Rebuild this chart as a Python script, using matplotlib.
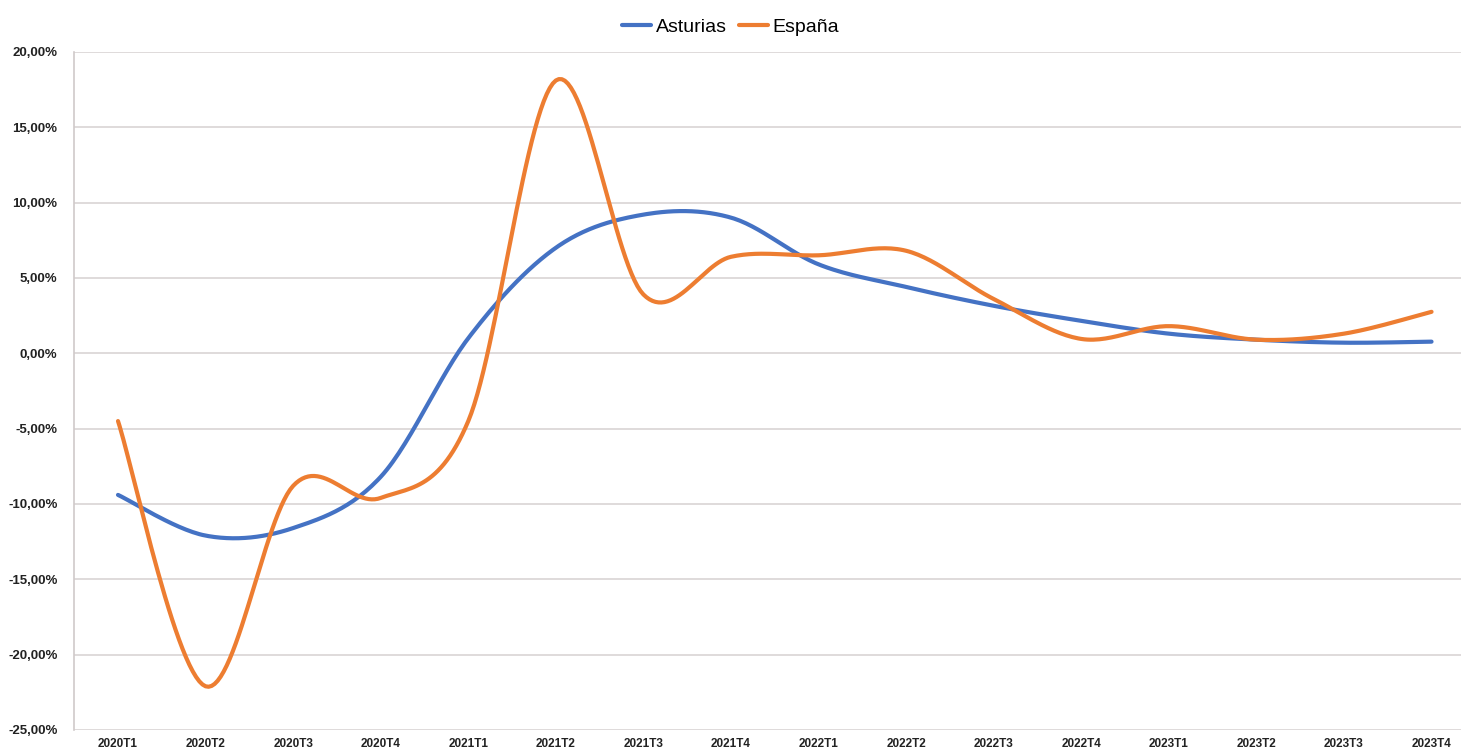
import numpy as np
import matplotlib
matplotlib.use("Agg")
import matplotlib.pyplot as plt
from matplotlib.ticker import FuncFormatter

trimestres = ["2020T1", "2020T2", "2020T3", "2020T4",
              "2021T1", "2021T2", "2021T3", "2021T4",
              "2022T1", "2022T2", "2022T3", "2022T4",
              "2023T1", "2023T2", "2023T3", "2023T4"]
asturias = [-9.4, -12.1, -11.6, -8.2, 1.0, 7.0, 9.2, 9.0,
            5.9, 4.4, 3.15, 2.15, 1.3, 0.9, 0.7, 0.77]
espana = [-4.5, -22.1, -8.8, -9.6, -4.5, 18.1, 3.9, 6.4,
          6.5, 6.8, 3.6, 0.95, 1.8, 0.9, 1.3, 2.75]

plt.rcParams['font.family'] = ['Liberation Sans Narrow', 'Liberation Sans', 'DejaVu Sans']


def suavizar(y, n=30):
    # curva tipo Excel (bezier con puntos de control a 1/6)
    x = np.arange(len(y), dtype=float)
    y = np.asarray(y, dtype=float)
    px = np.concatenate([[x[0]], x, [x[-1]]])
    py = np.concatenate([[y[0]], y, [y[-1]]])
    xs, ys = [], []
    t = np.linspace(0, 1, n)
    for i in range(len(y) - 1):
        p0 = np.array([px[i + 1], py[i + 1]])
        p3 = np.array([px[i + 2], py[i + 2]])
        p1 = p0 + (p3 - np.array([px[i], py[i]])) / 6
        p2 = p3 - (np.array([px[i + 3], py[i + 3]]) - p0) / 6
        b = ((1 - t) ** 3)[:, None] * p0 + (3 * (1 - t) ** 2 * t)[:, None] * p1 \
            + (3 * (1 - t) * t ** 2)[:, None] * p2 + (t ** 3)[:, None] * p3
        xs.extend(b[:, 0])
        ys.extend(b[:, 1])
    return np.array(xs), np.array(ys)


fig = plt.figure(figsize=(14.61, 7.56), dpi=100)
ax = fig.add_axes([0.0508, 0.0344, 0.959, 0.897])

xa, ya = suavizar(asturias)
xe, ye = suavizar(espana)
ax.plot(xa, ya, color='#4472C4', linewidth=3, label='Asturias', solid_capstyle='round')
ax.plot(xe, ye, color='#ED7D31', linewidth=3, label='España', solid_capstyle='round')

ax.set_xlim(-0.5, len(trimestres) - 0.5)
ax.set_ylim(-25, 20)
ax.set_yticks(np.arange(-25, 21, 5))
ax.yaxis.set_major_formatter(FuncFormatter(lambda v, p: ('%.2f%%' % v).replace('.', ',')))
ax.set_xticks(range(len(trimestres)))
ax.set_xticklabels(trimestres, fontsize=8.5, fontweight='bold', color='#222222')
for lab in ax.get_yticklabels():
    lab.set_fontsize(9.5)
    lab.set_fontweight('bold')
    lab.set_color('#222222')
ax.tick_params(axis='both', length=0)
ax.tick_params(axis='y', pad=12)
ax.tick_params(axis='x', pad=6)

ax.grid(axis='y', color='#d9d4d4', linewidth=1.2)
ax.set_axisbelow(True)
for s in ['top', 'right', 'bottom']:
    ax.spines[s].set_visible(False)
ax.spines['left'].set_color('#d0caca')
ax.spines['left'].set_linewidth(1.2)

leg = fig.legend(loc='center', bbox_to_anchor=(0.5, 0.964), ncol=2, frameon=False,
                 fontsize=14, handlelength=1.5, columnspacing=0.6, handletextpad=0.25)

plt.savefig('out.png', dpi=100)
